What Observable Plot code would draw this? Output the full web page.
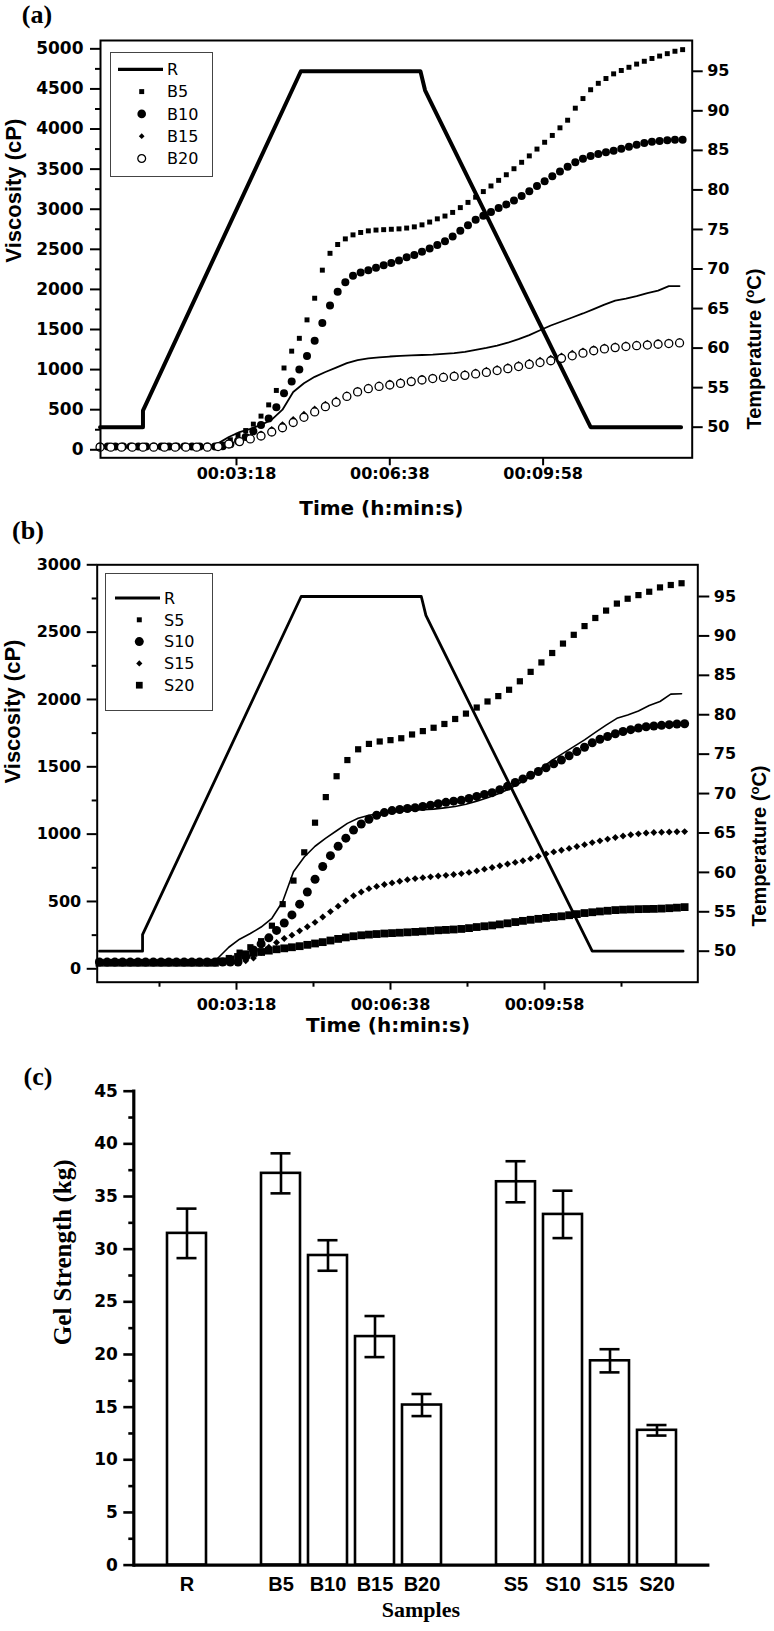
<!DOCTYPE html>
<html>
<head>
<meta charset="utf-8">
<script src="https://cdn.jsdelivr.net/npm/d3@7"></script>
<script src="https://cdn.jsdelivr.net/npm/@observablehq/plot@0.6"></script>
<style>
  html, body { margin: 0; padding: 0; background: #fff; }
  #wrap { position: relative; width: 774px; height: 1631px; overflow: hidden; background: #fff; }
  .panel { position: absolute; left: 0; }
  .plabel { position: absolute; font-family: "Liberation Serif", "Times New Roman", serif; font-weight: bold; font-size: 26px; color: #000; transform: translate(-50%, -50%); white-space: nowrap; }
  .legend { position: absolute; }
</style>
</head>
<body>
<div id="wrap">
  <div class="panel" id="pa" style="top:0px"></div>
  <div class="panel" id="pb" style="top:520px"></div>
  <div class="panel" id="pc" style="top:1040px"></div>
  <div class="plabel" style="left:37px; top:15px">(a)</div>
  <div class="plabel" style="left:28px; top:531px">(b)</div>
  <div class="plabel" style="left:38px; top:1077px">(c)</div>
</div>
<script>
// ---------- time grids (s) ----------
const timeFine = [20,30,40,50,60,70,80,90,100,110,120,130,140,150,160,170,180,190,200,210,220,230,240,250,260,270,280,290,300,310,320,330,340,350,360,370,380,390,400,410,420,430,440,450,460,470,480,490,500,510,520,530,540,550,560,570,580,590,600,610,620,630,640,650,660,670,680,690,700,710,720,730,740,750,760,770,780];
const timeCoarse = [20,34,48,62,76,90,104,118,132,146,160,174,188,202,216,230,244,258,272,286,300,314,328,342,356,370,384,398,412,426,440,454,468,482,496,510,524,538,552,566,580,594,608,622,636,650,664,678,692,706,720,734,748,762,776];

// ---------- temperature profile (°C) ----------
const tempTime = [20, 76, 76, 282, 438, 444, 451, 660, 778];
const tempC = [50, 50, 52.1, 95, 95, 92.6, 91.2, 50, 50];
const tempTicks = [50, 55, 60, 65, 70, 75, 80, 85, 90, 95];

// ---------- viscosity of reference R (cP), coarse grid ----------
const viscR = [30,30,30,30,30,30,30,30,30,32,40,80,160,220,262,310,375,500,720,830,910,970,1025,1080,1118,1140,1152,1163,1170,1177,1182,1186,1195,1205,1222,1245,1270,1300,1335,1380,1430,1490,1550,1600,1650,1700,1755,1810,1860,1885,1915,1955,1985,2040,2042];

// ---------- panel (a): B series (cP) ----------
const viscB5 = [35,35,35,35,35,35,35,35,35,35,35,35,35,36,38,45,70,125,180,240,320,420,560,740,1020,1230,1390,1620,1890,2240,2450,2560,2630,2680,2710,2730,2740,2745,2750,2755,2765,2780,2805,2840,2880,2915,2960,3020,3085,3150,3220,3290,3360,3430,3505,3585,3665,3750,3835,3920,4015,4110,4260,4380,4490,4570,4630,4688,4730,4770,4810,4845,4880,4910,4940,4970,4990];
const viscB10 = [40,40,40,40,40,40,40,40,40,40,40,40,40,40,40,40,45,70,110,160,230,310,390,530,705,850,1000,1170,1360,1580,1800,1970,2090,2170,2210,2240,2270,2300,2330,2360,2400,2430,2470,2510,2555,2600,2660,2730,2800,2870,2920,2965,3015,3060,3108,3165,3225,3290,3350,3410,3470,3530,3585,3630,3665,3690,3710,3730,3755,3780,3805,3825,3840,3850,3860,3865,3865];
const viscB15 = [40,40,40,40,40,40,40,40,40,40,40,50,85,120,160,205,260,320,385,450,515,575,630,695,750,790,820,840,860,880,900,915,930,945,960,978,998,1020,1045,1072,1100,1125,1148,1178,1210,1240,1268,1290,1305,1318,1328,1336,1345,1352,1358];
const viscB20 = [33,33,33,33,33,33,33,33,33,33,33,40,72,102,135,172,222,275,340,405,472,538,592,665,722,762,790,808,828,850,870,888,902,915,928,946,965,988,1012,1038,1065,1088,1110,1140,1172,1205,1235,1258,1274,1287,1298,1306,1316,1325,1332];

// ---------- panel (b): S series (cP) ----------
const viscS5 = [50,50,50,50,50,50,50,50,50,50,52,58,80,120,160,205,320,480,655,865,1085,1275,1430,1550,1630,1670,1688,1698,1712,1740,1765,1790,1818,1855,1895,1940,1985,2025,2072,2135,2205,2275,2345,2415,2480,2545,2605,2660,2712,2748,2775,2800,2832,2850,2863];
const viscS10 = [50,50,50,50,50,50,50,50,50,50,50,50,50,50,50,50,50,50,50,90,140,185,230,285,340,400,480,570,665,760,840,910,970,1030,1075,1110,1140,1160,1175,1183,1190,1196,1205,1215,1226,1236,1245,1252,1265,1280,1295,1308,1330,1355,1383,1410,1437,1465,1493,1522,1550,1582,1613,1645,1678,1705,1725,1745,1762,1776,1788,1797,1803,1808,1813,1818,1820];
const viscS15 = [48,48,48,48,48,48,48,48,48,48,48,48,48,48,48,48,48,48,48,60,80,120,160,195,225,250,282,312,345,385,425,465,505,542,570,595,612,626,638,650,662,670,677,683,689,694,700,707,716,727,740,752,765,778,790,802,818,836,853,868,880,894,908,922,937,950,963,975,986,995,1002,1008,1012,1014,1016,1018,1019];
const viscS20 = [45,45,45,45,45,45,45,45,45,45,45,45,45,45,45,45,55,70,88,108,118,125,135,145,152,160,168,178,188,198,210,222,233,242,249,254,258,262,265,268,271,274,278,282,286,289,292,296,302,310,316,322,330,338,347,356,364,371,378,385,390,398,406,414,420,426,431,436,439,441,443,444,445,447,450,454,458];

// ---------- panel (c): gel strength (kg) ----------
const samples = ["R", "B5", "B10", "B15", "B20", "S5", "S10", "S15", "S20"];
const gelMean = [31.5, 37.2, 29.4, 21.7, 15.2, 36.4, 33.3, 19.4, 12.8];
const gelErr = [2.35, 1.9, 1.45, 1.95, 1.05, 1.95, 2.25, 1.1, 0.5];
const sampleSlots = ["R", " ", "B5", "B10", "B15", "B20", "  ", "S5", "S10", "S15", "S20"];

// ---------- helpers ----------
const fine = vals => timeFine.map((t, i) => ({t, v: vals[i]}));
const coarse = vals => timeCoarse.map((t, i) => ({t, v: vals[i]}));
const fmtTime = t => {
  const m = Math.floor(t / 60), s = Math.round(t % 60);
  return "00:" + String(m).padStart(2, "0") + ":" + String(s).padStart(2, "0");
};
const intFmt = d => String(Math.round(d));
const baseStyle = {fontFamily: "'DejaVu Sans', sans-serif", fontWeight: "bold", fontSize: "16px", color: "#000", background: "transparent", overflow: "visible"};
const lab = {text: d => d, fill: "black", fontWeight: "bold"};

// ---------- panel (a) ----------
const toVa = T => 281.8 + (T - 50) * 98.63;
const fromVa = v => 50 + (v - 281.8) / 98.63;
const tempA = tempTime.map((t, i) => ({t, v: toVa(tempC[i])}));

const plotA = Plot.plot({
  width: 774, height: 520,
  marginLeft: 100, marginRight: 82.3, marginTop: 40, marginBottom: 62.7,
  x: {domain: [20.6, 792.5]},
  y: {domain: [-100, 5104]},
  style: baseStyle,
  marks: [
    Plot.line(tempA, {x: "t", y: "v", stroke: "black", strokeWidth: 4}),
    Plot.line(coarse(viscR), {x: "t", y: "v", stroke: "black", strokeWidth: 1.8}),
    Plot.dot(fine(viscB5), {x: "t", y: "v", symbol: "square", r: 2.8, fill: "black"}),
    Plot.dot(fine(viscB10), {x: "t", y: "v", symbol: "circle", r: 4, fill: "black"}),
    Plot.dot(coarse(viscB15), {x: "t", y: "v", symbol: "diamond2", r: 2.6, fill: "black"}),
    Plot.dot(coarse(viscB20), {x: "t", y: "v", symbol: "circle", r: 4, fill: "white", stroke: "black", strokeWidth: 1.3}),
    Plot.frame({stroke: "black", strokeWidth: 2}),
    Plot.axisY(d3.range(0, 5001, 500), {tickSize: 10, tickPadding: 7, fontSize: 17, tickFormat: intFmt, label: null, strokeWidth: 2}),
    Plot.axisY(d3.range(250, 5000, 500), {tickSize: 5, tickFormat: () => "", label: null, strokeWidth: 2}),
    Plot.axisY(tempTicks.map(toVa), {anchor: "right", tickSize: 10, tickPadding: 5, fontSize: 16, tickFormat: v => intFmt(fromVa(v)), label: null, strokeWidth: 2}),
    Plot.axisX([198, 398, 598], {tickSize: 8, tickPadding: 2, fontSize: 16, tickFormat: fmtTime, label: null, strokeWidth: 2}),
    Plot.text(["Viscosity (cP)"], {...lab, frameAnchor: "left", dx: -86.5, dy: 13.5, rotate: -90, fontSize: 22, fontFamily: "'Liberation Sans', Arial, sans-serif"}),
    Plot.text(["Temperature (°C)"], {...lab, frameAnchor: "right", dx: 62.5, dy: 19.5, rotate: -90, fontSize: 20, fontFamily: "'Liberation Sans', Arial, sans-serif"}),
    Plot.text(["Time (h:min:s)"], {...lab, frameAnchor: "bottom", dx: -15, dy: 57.5, fontSize: 20})
  ]
});
document.getElementById("pa").appendChild(plotA);

// ---------- panel (b) ----------
const toVb = T => 130.7 + (T - 50) * 58.53;
const fromVb = v => 50 + (v - 130.7) / 58.53;
const tempB = tempTime.map((t, i) => ({t, v: toVb(tempC[i])}));

const plotB = Plot.plot({
  width: 774, height: 520,
  marginLeft: 96.7, marginRight: 76.7, marginTop: 44.3, marginBottom: 58.3,
  x: {domain: [17.1, 797.1]},
  y: {domain: [-99.5, 3000]},
  style: baseStyle,
  marks: [
    Plot.line(tempB, {x: "t", y: "v", stroke: "black", strokeWidth: 2.8}),
    Plot.line(coarse(viscR), {x: "t", y: "v", stroke: "black", strokeWidth: 1.6}),
    Plot.dot(coarse(viscS5), {x: "t", y: "v", symbol: "square", r: 3.5, fill: "black"}),
    Plot.dot(fine(viscS10), {x: "t", y: "v", symbol: "circle", r: 4.5, fill: "black"}),
    Plot.dot(fine(viscS15), {x: "t", y: "v", symbol: "diamond2", r: 3.1, fill: "black"}),
    Plot.dot(fine(viscS20), {x: "t", y: "v", symbol: "square", r: 4.4, fill: "black"}),
    Plot.frame({stroke: "black", strokeWidth: 2}),
    Plot.axisY(d3.range(0, 3001, 500), {tickSize: 10, tickPadding: 6, fontSize: 16, tickFormat: intFmt, label: null, strokeWidth: 2}),
    Plot.axisY(d3.range(250, 3000, 500), {tickSize: 5, tickFormat: () => "", label: null, strokeWidth: 2}),
    Plot.axisY(tempTicks.map(toVb), {anchor: "right", tickSize: 11, tickPadding: 5, fontSize: 16, tickFormat: v => intFmt(fromVb(v)), label: null, strokeWidth: 2}),
    Plot.axisX([198, 398, 598], {tickSize: 8, tickPadding: 8, fontSize: 16, tickFormat: fmtTime, label: null, strokeWidth: 2}),
    Plot.axisX([98, 298, 498, 698], {tickSize: 5, tickFormat: () => "", label: null, strokeWidth: 2}),
    Plot.text(["Viscosity (cP)"], {...lab, frameAnchor: "left", dx: -84.7, dy: 10, rotate: -90, fontSize: 22, fontFamily: "'Liberation Sans', Arial, sans-serif"}),
    Plot.text(["Temperature (°C)"], {...lab, frameAnchor: "right", dx: 61.7, dy: -8, rotate: -90, fontSize: 20, fontFamily: "'Liberation Sans', Arial, sans-serif"}),
    Plot.text(["Time (h:min:s)"], {...lab, frameAnchor: "bottom", dx: -9.5, dy: 49.3, fontSize: 20})
  ]
});
document.getElementById("pb").appendChild(plotB);

// superscript "o" in the temperature labels, as in the original
[plotA, plotB].forEach(svg => {
  d3.select(svg).selectAll("text").filter(function() { return this.textContent === "Temperature (°C)"; })
    .each(function() {
      const t = d3.select(this);
      t.text("Temperature (");
      t.append("tspan").attr("baseline-shift", "super").attr("font-size", "65%").text("o");
      t.append("tspan").text("C)");
    });
});

// ---------- panel (c) ----------
const gelRows = samples.map((s, i) => ({s, m: gelMean[i], e: gelErr[i]}));
const plotC = Plot.plot({
  width: 774, height: 591,
  marginLeft: 133.3, marginRight: 64.6, marginTop: 50.7, marginBottom: 66.4,
  x: {domain: sampleSlots, paddingInner: 0.163, paddingOuter: 0.607},
  y: {domain: [0, 45]},
  style: baseStyle,
  marks: [
    Plot.barY(gelRows, {x: "s", y: "m", fill: "white", stroke: "black", strokeWidth: 2.6}),
    Plot.ruleX(gelRows, {x: "s", y1: d => d.m - d.e, y2: d => d.m + d.e, stroke: "black", strokeWidth: 2.6}),
    Plot.tickY(gelRows, {x: "s", y: d => d.m + d.e, inset: 9.5, stroke: "black", strokeWidth: 2.6}),
    Plot.tickY(gelRows, {x: "s", y: d => d.m - d.e, inset: 9.5, stroke: "black", strokeWidth: 2.6}),
    Plot.ruleY([0], {stroke: "black", strokeWidth: 3.2}),
    Plot.frame({anchor: "left", stroke: "black", strokeWidth: 3.2}),
    Plot.axisY(d3.range(0, 46, 5), {tickSize: 10, tickPadding: 6, fontSize: 17, tickFormat: intFmt, label: null, strokeWidth: 2.6}),
    Plot.axisY(d3.range(2.5, 45, 5), {tickSize: 5, tickFormat: () => "", label: null, strokeWidth: 2.6}),
    Plot.axisX({tickSize: 0, tickPadding: 12, fontSize: 20, fontFamily: "'Liberation Sans', Arial, sans-serif", label: null}),
    Plot.text(["Gel Strength (kg)"], {...lab, frameAnchor: "left", dx: -71, dy: 17, rotate: -90, fontSize: 25, fontFamily: "'Liberation Serif', 'Times New Roman', serif"}),
    Plot.text(["Samples"], {...lab, frameAnchor: "bottom", dx: -1, dy: 51.5, fontSize: 22, fontFamily: "'Liberation Serif', 'Times New Roman', serif"})
  ]
});
document.getElementById("pc").appendChild(plotC);

// ---------- legends ----------
const legendA = {names: ["R", "B5", "B10", "B15", "B20"], symbols: [null, "square", "circle", "diamond2", "open"], sizes: [0, 2.8, 4.3, 2.6, 3.9]};
const legendB = {names: ["R", "S5", "S10", "S15", "S20"], symbols: [null, "square", "circle", "diamond2", "square"], sizes: [0, 2.8, 4.5, 2.8, 3.8]};
const symbolTypes = {square: d3.symbolSquare, circle: d3.symbolCircle, diamond2: d3.symbolDiamond2, open: d3.symbolCircle};

function drawLegend(spec, box) {
  const svg = d3.select("#wrap").append("svg")
    .attr("class", "legend")
    .style("left", box.left + "px").style("top", box.top + "px")
    .attr("width", box.w).attr("height", box.h);
  svg.append("rect").attr("x", 0.5).attr("y", 0.5).attr("width", box.w - 1).attr("height", box.h - 1)
    .attr("fill", "white").attr("stroke", "#444").attr("stroke-width", 1);
  spec.names.forEach((name, i) => {
    const y = box.y0 + i * box.dy;
    const sym = spec.symbols[i];
    if (sym === null) {
      svg.append("line").attr("x1", box.lx0).attr("x2", box.lx1).attr("y1", y).attr("y2", y)
        .attr("stroke", "black").attr("stroke-width", 3.2);
    } else {
      const r = spec.sizes[i];
      svg.append("path")
        .attr("transform", `translate(${box.mx},${y})`)
        .attr("d", d3.symbol(symbolTypes[sym], Math.PI * r * r)())
        .attr("fill", sym === "open" ? "white" : "black")
        .attr("stroke", sym === "open" ? "black" : "none")
        .attr("stroke-width", 1.3);
    }
    svg.append("text").attr("x", box.tx).attr("y", y).attr("dy", "0.36em")
      .attr("font-family", "'DejaVu Sans', sans-serif").attr("font-size", 16)
      .attr("fill", "black").text(name);
  });
}
drawLegend(legendA, {left: 110, top: 52, w: 103, h: 125, y0: 17.3, dy: 22.3, lx0: 8, lx1: 53, mx: 31.7, tx: 57});
drawLegend(legendB, {left: 105, top: 573, w: 108, h: 138, y0: 25, dy: 21.8, lx0: 10, lx1: 55, mx: 34.3, tx: 59});
</script>
</body>
</html>
